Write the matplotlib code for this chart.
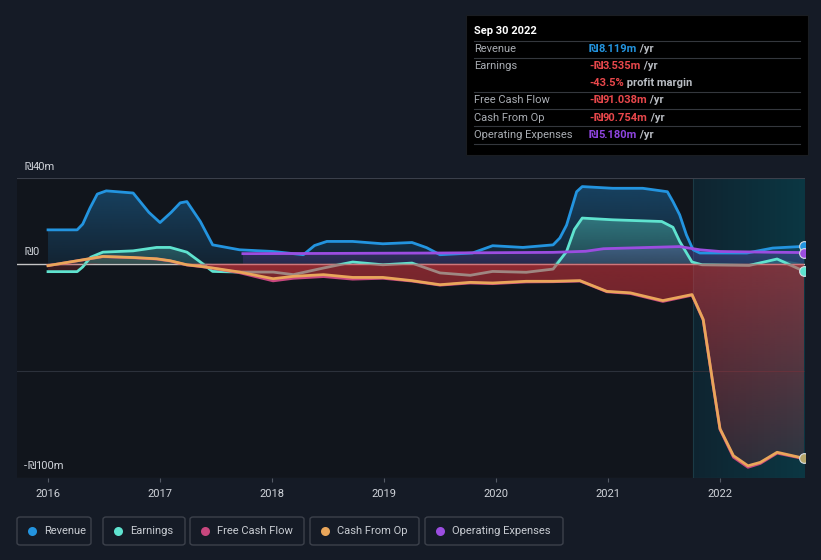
import numpy as np
import matplotlib.pyplot as plt
from matplotlib.colors import to_rgb
from matplotlib.patches import FancyBboxPatch, Rectangle, PathPatch
from matplotlib.lines import Line2D

plt.rcParams['font.family'] = ['Roboto', 'DejaVu Sans']
plt.rcParams['lines.solid_joinstyle'] = 'round'

# values in millions of shekels, x in decimal years
rev_x = [2016.00, 2016.26, 2016.31, 2016.375, 2016.44, 2016.52, 2016.76, 2016.9, 2017.0, 2017.1, 2017.18,
         2017.24, 2017.36, 2017.47, 2017.71, 2018.01, 2018.28, 2018.38, 2018.49, 2018.72, 2018.99, 2019.25,
         2019.38, 2019.5, 2019.79, 2019.97, 2020.24, 2020.51, 2020.57, 2020.63, 2020.72, 2020.77, 2021.04,
         2021.31, 2021.53, 2021.58, 2021.64, 2021.70, 2021.76, 2021.82, 2022.24, 2022.47, 2022.75]
rev_y = [15.8, 15.8, 18.5, 26, 32.5, 34, 33, 24, 19.2, 24, 28.4,
         29, 19.7, 8.8, 6.5, 5.7, 4.2, 8.5, 10.4, 10.4, 9.3, 9.9,
         7.5, 4.2, 5, 8.4, 7.6, 8.8, 12, 18, 33.6, 36, 35.2,
         35.2, 33.6, 29, 22.8, 13.5, 6.5, 5, 5, 7.3, 8.1]

earn_x = [2016.0, 2016.26, 2016.31, 2016.38, 2016.49, 2016.76, 2016.97, 2017.09, 2017.24, 2017.36, 2017.47,
          2017.71, 2018.01, 2018.19, 2018.46, 2018.72, 2018.99, 2019.25, 2019.5, 2019.77, 2019.97, 2020.27,
          2020.51, 2020.63, 2020.70, 2020.77, 2021.04, 2021.48, 2021.58, 2021.64, 2021.75, 2021.84, 2022.26,
          2022.51, 2022.75]
earn_y = [-3.7, -3.7, -1.5, 3, 5.4, 6, 7.6, 7.6, 5.4, 0.8, -3.6,
          -3.9, -3.9, -5.1, -2, 0.8, -0.5, 0.3, -4.3, -5.4, -3.6, -4,
          -2.5, 5.7, 16, 21.3, 20.5, 19.7, 17, 10.4, 0.8, -0.5, -0.8,
          2.2, -3.5]

cfo_x = [2016.0, 2016.49, 2016.76, 2016.97, 2017.09, 2017.24, 2017.36, 2017.47, 2017.71, 2018.01, 2018.19,
         2018.46, 2018.72, 2018.99, 2019.25, 2019.5, 2019.77, 2019.97, 2020.27, 2020.51, 2020.75, 2020.99,
         2021.2, 2021.49, 2021.75, 2021.79, 2021.85, 2021.94, 2022.0, 2022.12, 2022.25, 2022.36, 2022.51,
         2022.75]
cfo_y = [-0.9, 3.4, 2.9, 2.3, 1.4, -0.5, -1.2, -2, -3.9, -7, -5.9,
         -5.1, -6.4, -6.4, -7.9, -9.8, -8.7, -9, -8.2, -8.2, -7.9, -12.9,
         -13.6, -17.2, -14.4, -19, -26, -57, -77, -89.6, -94.3, -92.7, -88,
         -90.8]
fcf_y = [-0.9, 3.3, 2.8, 2.2, 1.3, -0.6, -1.3, -2.1, -4.2, -8, -6.8,
         -6, -7.2, -6.8, -8.1, -10, -9, -9.3, -8.5, -8.4, -8.1, -13.1,
         -13.9, -17.6, -14.7, -19.3, -26.3, -57.3, -77.3, -90.3, -95, -93.2, -88.4,
         -91.0]

opex_x = [2017.74, 2018.5, 2019.5, 2020.51, 2020.8, 2020.96, 2021.3, 2021.64, 2021.82, 2022.0, 2022.4, 2022.75]
opex_y = [4.7, 4.8, 5.0, 5.3, 5.8, 7.0, 7.5, 8.0, 6.5, 5.7, 5.4, 5.2]

y_labels = [(167, '', '40m'), (252, '', '0'), (466, '-', '100m')]

C_REV, C_EARN, C_FCF, C_CFO, C_OPEX = '#2394df', '#5fe3cf', '#c8477e', '#e9a65a', '#9b4de0'
BG = '#151b26'

fig = plt.figure(figsize=(8.21, 5.6), dpi=100, facecolor=BG)
ax = fig.add_axes([17 / 821, 82 / 560, 788 / 821, 300 / 560])
ax.set_facecolor('#11151c')
X0, X1 = 2015.723, 2022.759
ax.set_xlim(X0, X1)
ax.set_ylim(-100, 40)
for s in ax.spines.values():
    s.set_visible(False)


def grad_fill(x, y, color, a_top, a_bot, y_top, y_bot, z):
    x = np.asarray(x, float)
    y = np.asarray(y, float)
    verts = np.vstack([np.column_stack([x, y]), [[x[-1], 0], [x[0], 0]]])
    patch = PathPatch(plt.matplotlib.path.Path(verts), facecolor='none', edgecolor='none',
                      transform=ax.transData)
    ax.add_patch(patch)
    g = np.zeros((200, 1, 4))
    g[:, 0, :3] = to_rgb(color)
    g[:, 0, 3] = np.linspace(a_bot, a_top, 200)
    im = ax.imshow(g, extent=[x[0], x[-1], y_bot, y_top], origin='lower', aspect='auto',
                   zorder=z, interpolation='bilinear')
    im.set_clip_path(patch)


# last-year highlight band
hl = np.zeros((1, 200, 3))
c0, c1 = np.array(to_rgb('#0f2430')), np.array(to_rgb('#0b3743'))
hl[0] = c0 + (c1 - c0) * np.linspace(0, 1, 200)[:, None]
ax.imshow(hl, extent=[2021.76, X1, -100, 40], aspect='auto', zorder=0.3)
ax.axvline(2021.76, color='#1b3a45', lw=0.8, zorder=0.35)

# grid
ax.axhline(40, color='#3b404b', lw=0.8, zorder=0.5)
ax.axhline(-50, color='#2c313b', lw=0.8, zorder=0.5)
ax.axhline(-100, color='#3b404b', lw=0.8, zorder=0.5)

# fills
grad_fill(rev_x, np.maximum(rev_y, 0), C_REV, 0.36, 0.12, 37, 0, 1.0)
grad_fill(opex_x, opex_y, C_OPEX, 0.25, 0.15, 8, 0, 1.1)
grad_fill(earn_x, np.maximum(earn_y, 0), C_EARN, 0.38, 0.18, 22, 0, 1.2)
grad_fill(earn_x, np.minimum(earn_y, 0), '#d9363e', 0.2, 0.2, 0, -6, 1.2)
grad_fill(cfo_x, np.maximum(cfo_y, 0), C_CFO, 0.15, 0.1, 4, 0, 1.3)

ax.axhline(0, color='#c4c4c4', lw=1, zorder=1.9)
ax.plot(earn_x, earn_y, color=C_EARN, lw=2, zorder=2)
grad_fill(cfo_x, np.minimum(fcf_y, 0), '#d9363e', 0.55, 0.14, 0, -100, 2.5)

ax.plot(rev_x, rev_y, color=C_REV, lw=2, zorder=3)
ax.plot(opex_x, opex_y, color=C_OPEX, lw=2, zorder=3.2)
ax.plot(cfo_x, fcf_y, color=C_FCF, lw=2, zorder=3)
ax.plot(cfo_x, cfo_y, color=C_CFO, lw=2, zorder=3.1)

# end dots
for yv, c, z in [(rev_y[-1], C_REV, 4), (earn_y[-1], C_EARN, 4), (cfo_y[-1], '#b5a56a', 4),
                 (opex_y[-1], C_OPEX, 4.1)]:
    ax.plot([2022.75], [yv], 'o', ms=7, color=c, mec='#d8dde3', mew=0.8, zorder=z)

# axis ticks
years = [2016, 2017, 2018, 2019, 2020, 2021, 2022]
ax.set_xticks(years)
ax.set_xticklabels([str(y) for y in years])
ax.tick_params(axis='x', colors='#555b66', length=3, pad=5, labelcolor='#d0d4da', labelsize=8)
ax.set_yticks([])


def fx(px):
    return px / 821


def fy(py):
    return 1 - py / 560


fig.canvas.draw()
rend = fig.canvas.get_renderer()


def seg_text(x_px, y_px, parts, size):
    # parts: (text, colour, bold); the shekel sign goes through DejaVu, the rest Roboto
    x = fx(x_px)
    for txt, col, bold in parts:
        pieces = txt.split('₪')
        for i, p in enumerate(pieces):
            if i > 0:
                t = fig.text(x, fy(y_px), '₪', color=col, fontsize=size * 0.95, va='center',
                             family='DejaVu Sans', fontweight='bold' if bold else 'normal')
                x = t.get_window_extent(renderer=rend).x1 / fig.bbox.width
            if p:
                t = fig.text(x, fy(y_px), p, color=col, fontsize=size, va='center',
                             fontweight='bold' if bold else 'normal')
                x = t.get_window_extent(renderer=rend).x1 / fig.bbox.width
    return x


for py, pre, num in y_labels:
    seg_text(24, py, [(pre + '₪' + num, '#d0d4da', False)], 8)

# tooltip box
fig.add_artist(Rectangle((fx(466), fy(155)), fx(808) - fx(466), fy(15) - fy(155),
                         transform=fig.transFigure, facecolor='#000000', edgecolor='#1a1d22', lw=0.8))
fig.text(fx(474), fy(31), 'Sep 30 2022', color='white', fontsize=8, fontweight='bold', va='center')
for py in [41, 58, 92, 109, 126, 144]:
    fig.add_artist(Line2D([fx(474), fx(800)], [fy(py), fy(py)], transform=fig.transFigure,
                          color='#34373d', lw=0.8))

RED = '#e8474b'
rows = [
    (49, 'Revenue', '₪8.119m', C_REV, ' /yr'),
    (66, 'Earnings', '-₪3.535m', RED, ' /yr'),
    (83, '', '-43.5%', RED, ' profit margin'),
    (100, 'Free Cash Flow', '-₪91.038m', RED, ' /yr'),
    (118, 'Cash From Op', '-₪90.754m', RED, ' /yr'),
    (135, 'Operating Expenses', '₪5.180m', '#8f45e0', ' /yr'),
]
for py, lab, val, col, tail in rows:
    if lab:
        fig.text(fx(474), fy(py), lab, color='#a9adb3', fontsize=8, va='center')
    seg_text(589, py, [(val, col, True), (tail, '#b8bcc2', True)], 8)

# legend
legend = [('Revenue', C_REV, 17, 91), ('Earnings', C_EARN, 103, 185), ('Free Cash Flow', C_FCF, 190, 304),
          ('Cash From Op', C_CFO, 310, 419), ('Operating Expenses', C_OPEX, 425, 563)]
for lab, col, x0, x1 in legend:
    fig.add_artist(FancyBboxPatch((fx(x0), fy(545)), fx(x1) - fx(x0), fy(517) - fy(545),
                                  boxstyle='round,pad=0,rounding_size=0.004', transform=fig.transFigure,
                                  facecolor='none', edgecolor='#3c414b', lw=1))
    fig.add_artist(Line2D([fx(x0 + 15)], [fy(531)], marker='o', ms=6.5, color=col, mew=0,
                          transform=fig.transFigure))
    fig.text(fx(x0 + 27), fy(531), lab, color='#c8ccd2', fontsize=8, va='center')

fig.savefig('out.png', dpi=100, facecolor=BG)
